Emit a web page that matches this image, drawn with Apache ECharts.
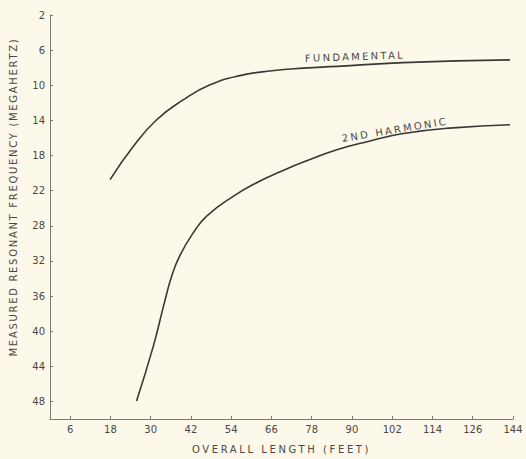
<!DOCTYPE html>
<html>
<head>
<meta charset="utf-8">
<script src="https://cdn.jsdelivr.net/npm/echarts@6/dist/echarts.min.js"></script>
<style>
html,body{margin:0;padding:0;background:#fcf9ea;}
#c{width:526px;height:459px;}
text[style*="Verdana"],text[font-family*="Verdana"]{letter-spacing:2.6px;}
text[style*="Tahoma"],text[font-family*="Tahoma"]{letter-spacing:1.7px;}
text[style*="Geneva"],text[font-family*="Geneva"]{letter-spacing:2.3px;}
</style>
</head>
<body>
<div id="c"></div>
<script>
// Tick positions (axis units) and the labels printed on the original chart
const xTicks = [6, 18, 30, 42, 54, 66, 78, 90, 102, 114, 126, 138];
const xTickLabels = ['6', '18', '30', '42', '54', '66', '78', '90', '102', '114', '126', '144'];
const yTicks = [2, 6, 10, 14, 18, 22, 26, 30, 34, 38, 42, 46];
const yTickLabels = ['2', '6', '10', '14', '18', '22', '28', '32', '36', '40', '44', '48'];

// Fundamental curve
const fundLength = [17.9, 24.8, 31.8, 39.7, 47.7, 56.6, 66.2, 75.5, 85.5, 105.2, 137.1];
const fundFreq   = [20.75, 16.97, 13.93, 11.66, 9.95, 8.9, 8.35, 8.05, 7.85, 7.42, 7.11];

// 2nd harmonic curve
const harmLength = [25.8, 30.8, 33.8, 36.3, 38.7, 42.7, 46.7, 54.6, 62.6, 68.6, 75.5, 85.5, 95.4, 105.3, 120.2, 137.1];
const harmFreq   = [45.94, 39.7, 35.2, 31.7, 29.4, 26.8, 24.9, 22.65, 20.9, 19.85, 18.75, 17.35, 16.35, 15.5, 14.85, 14.5];

const seriesNames = ['FUNDAMENTAL', '2ND HARMONIC'];
const xName = 'OVERALL LENGTH (FEET)';
const yName = 'MEASURED RESONANT FREQUENCY (MEGAHERTZ)';

const zip = (a, b) => a.map((v, i) => [v, b[i]]);

const chart = echarts.init(document.getElementById('c'), null, { renderer: 'svg' });
const lineColor = '#3a3835';
const axisColor = '#7a7872';
const textColor = '#4a4844';

function curveLabel(name, coord, rot) {
  return {
    silent: true,
    symbol: 'circle',
    symbolSize: 1,
    itemStyle: { color: 'rgba(0,0,0,0)' },
    label: {
      show: true,
      position: 'inside',
      rotate: rot,
      formatter: name,
      color: textColor,
      fontSize: 10,
      fontFamily: 'Geneva, DejaVu Sans',
      fontWeight: 'normal'
    },
    data: [{ coord: coord }]
  };
}

chart.setOption({
  backgroundColor: '#fcf9ea',
  animation: false,
  grid: { left: 50, right: 13, top: 15, bottom: 39, containLabel: false },
  xAxis: {
    type: 'value',
    min: 0,
    max: 138,
    name: xName,
    nameLocation: 'middle',
    nameGap: 25,
    nameTextStyle: { color: textColor, fontSize: 10, fontFamily: 'Verdana, DejaVu Sans' },
    axisLine: { show: true, lineStyle: { color: axisColor, width: 1 } },
    axisTick: { show: true, inside: true, length: 3, customValues: xTicks, lineStyle: { color: axisColor } },
    axisLabel: {
      customValues: xTicks,
      margin: 5,
      color: textColor,
      fontSize: 10,
      fontFamily: 'DejaVu Sans',
      formatter: v => { const i = xTicks.indexOf(v); return i >= 0 ? xTickLabels[i] : ''; }
    },
    splitLine: { show: false }
  },
  yAxis: {
    type: 'value',
    inverse: true,
    min: 2,
    max: 48,
    axisLine: { show: true, lineStyle: { color: axisColor, width: 1 } },
    axisTick: { show: true, inside: true, length: 3, customValues: yTicks, lineStyle: { color: axisColor } },
    axisLabel: {
      customValues: yTicks,
      margin: 5,
      color: textColor,
      fontSize: 10,
      fontFamily: 'DejaVu Sans',
      formatter: v => { const i = yTicks.indexOf(v); return i >= 0 ? yTickLabels[i] : ''; }
    },
    splitLine: { show: false }
  },
  graphic: [{
    type: 'text',
    x: 13,
    y: 197,
    rotation: Math.PI / 2,
    style: {
      text: yName,
      align: 'center',
      verticalAlign: 'middle',
      fill: textColor,
      fontSize: 10,
      fontFamily: 'Tahoma, DejaVu Sans'
    }
  }],
  series: [
    {
      name: seriesNames[0],
      type: 'line',
      data: zip(fundLength, fundFreq),
      smooth: 0.5,
      showSymbol: false,
      lineStyle: { color: lineColor, width: 1.6 },
      markPoint: curveLabel(seriesNames[0], [90.9, 6.74], 2)
    },
    {
      name: seriesNames[1],
      type: 'line',
      data: zip(harmLength, harmFreq),
      smooth: 0.5,
      showSymbol: false,
      lineStyle: { color: lineColor, width: 1.6 },
      markPoint: curveLabel(seriesNames[1], [102.8, 15.07], 9.5)
    }
  ]
});
</script>
</body>
</html>
